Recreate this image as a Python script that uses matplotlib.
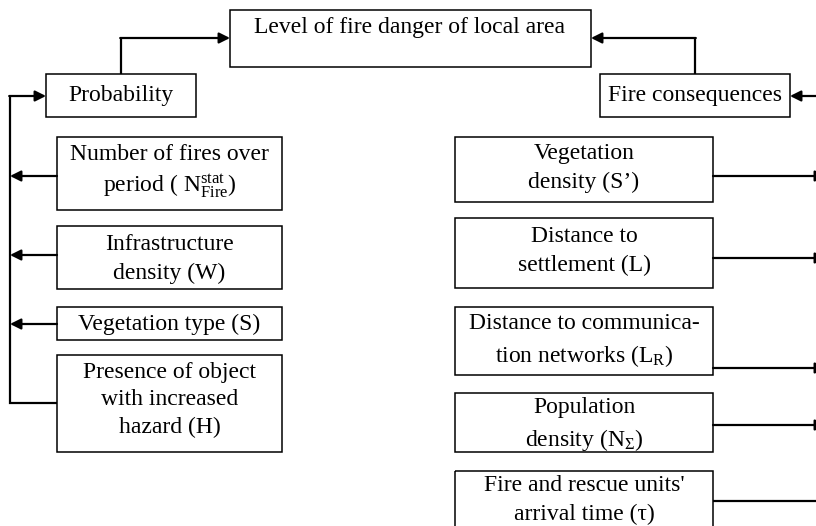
import matplotlib.pyplot as plt
from matplotlib.patches import Rectangle, FancyArrowPatch

plt.rcParams['font.family'] = ['Liberation Serif', 'DejaVu Serif']
plt.rcParams['mathtext.fontset'] = 'custom'
plt.rcParams['mathtext.rm'] = 'Liberation Serif'
plt.rcParams['mathtext.it'] = 'Liberation Serif:italic'

# labels of the diagram
top_label = 'Level of fire danger of local area'
prob_label = 'Probability'
cons_label = 'Fire consequences'
left_labels = [
    'Number of fires over\nperiod ( $\\mathrm{N}_{\\mathrm{Fire}}^{\\mathrm{stat}}$)',
    'Infrastructure\ndensity (W)',
    'Vegetation type (S)',
    'Presence of object\nwith increased\nhazard (H)',
]
right_labels = [
    'Vegetation\ndensity (S\u2019)',
    'Distance to\nsettlement (L)',
    'Distance to communica-\ntion networks (L$_\\mathrm{R}$)',
    'Population\ndensity (N$_\\Sigma$)',
    "Fire and rescue units'\narrival time (\u03c4)",
]

# box geometry in pixels (top, bottom), connector y
left_boxes = [(137, 210, 176), (226, 289, 255), (307, 340, 324), (355, 452, 403)]
left_text_y = [172, 259, 324, 400]
right_boxes = [(137, 202, 176), (218, 288, 258), (307, 375, 368), (393, 452, 425), (471, 540, 501)]
right_text_y = [168, 251, 341, 425, 500]

W, H = 816, 526
fig = plt.figure(figsize=(W / 100, H / 100), dpi=100)
ax = fig.add_axes([0, 0, 1, 1])
ax.set_xlim(0, W)
ax.set_ylim(H, 0)
ax.axis('off')

fs = 17
blw = 1.1
llw = 1.6


def box(x0, x1, y0, y1):
    ax.add_patch(Rectangle((x0, y0), x1 - x0, y1 - y0, fill=False,
                           ec='black', lw=blw))


def line(xs, ys):
    ax.plot(xs, ys, color='black', lw=llw, solid_capstyle='butt',
            solid_joinstyle='miter')


def arrow(x0, y0, x1, y1):
    ax.add_patch(FancyArrowPatch((x0, y0), (x1, y1), arrowstyle='-|>',
                                 mutation_scale=16, color='black', lw=llw,
                                 shrinkA=0, shrinkB=0))


def label(x, y, s):
    ax.text(x, y, s, ha='center', va='center', fontsize=fs,
            linespacing=1.43)


# top box
box(230, 591, 10, 67)
ax.text(410, 28, top_label, ha='center', va='center', fontsize=fs)

# probability
box(46, 196, 74, 117)
label(121, 96, prob_label)
line([121, 121], [74, 38])
arrow(120.2, 38, 230, 38)

# fire consequences
box(600, 790, 74, 117)
label(695, 96, cons_label)
line([695, 695], [74, 38])
arrow(695.8, 38, 591, 38)
arrow(816, 96, 790, 96)

# left branch
line([10, 10, 57], [96, 403, 403])
arrow(9.2, 96, 46, 96)
for (y0, y1, yc), s, ty in zip(left_boxes, left_labels, left_text_y):
    box(57, 282, y0, y1)
    label(169.5, ty, s)
for (y0, y1, yc) in left_boxes[:3]:
    arrow(57, yc, 10, yc)

# right branch
for (y0, y1, yc), s, ty in zip(right_boxes, right_labels, right_text_y):
    box(455, 713, y0, y1)
    label(584, ty, s)
for (y0, y1, yc) in right_boxes[:4]:
    arrow(713, yc, 826, yc)
line([713, 816], [right_boxes[4][2]] * 2)

fig.savefig('out.png', dpi=100)
